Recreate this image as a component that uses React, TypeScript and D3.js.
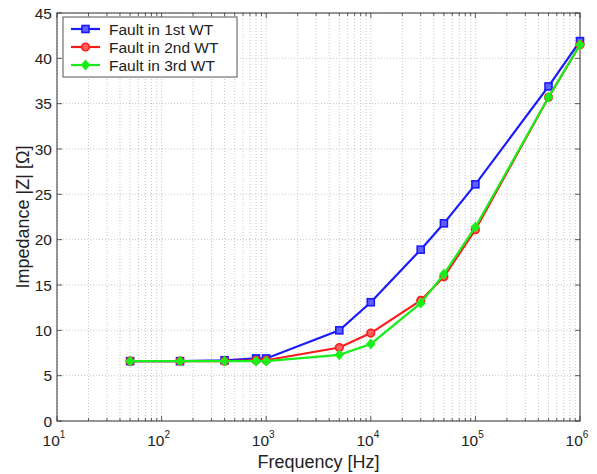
import React from "react";
import * as d3 from "d3";

const freqs = [50, 150, 400, 800, 1000, 5000, 10000, 30000, 50000, 100000, 500000, 1000000];
const wt1 = [6.6, 6.6, 6.7, 6.9, 6.9, 10.0, 13.1, 18.9, 21.8, 26.1, 36.9, 41.9];
const wt2 = [6.6, 6.6, 6.6, 6.7, 6.7, 8.1, 9.7, 13.3, 15.9, 21.1, 35.7, 41.5];
const wt3 = [6.6, 6.6, 6.6, 6.6, 6.6, 7.3, 8.5, 13.0, 16.2, 21.4, 35.7, 41.5];
const seriesNames = ["Fault in 1st WT", "Fault in 2nd WT", "Fault in 3rd WT"];
const yTicks = [0, 5, 10, 15, 20, 25, 30, 35, 40, 45];
const xExponents = [1, 2, 3, 4, 5, 6];

const W = 597, H = 474;
const L = 57, R = 580, T = 13, B = 421;

export default function App() {
  const x = d3.scaleLog().domain([10, 1e6]).range([L, R]);
  const y = d3.scaleLinear().domain([0, 45]).range([B, T]);
  const series = [
    { name: seriesNames[0], vals: wt1, color: "#1a1aff", marker: "square" },
    { name: seriesNames[1], vals: wt2, color: "#ff1a1a", marker: "circle" },
    { name: seriesNames[2], vals: wt3, color: "#1aee1a", marker: "diamond" },
  ];
  const minor: number[] = [];
  for (let e = 1; e < 6; e++) for (let k = 2; k <= 9; k++) minor.push(k * Math.pow(10, e));
  const major = xExponents.map((e) => Math.pow(10, e));
  const line = d3.line<[number, number]>().x((d) => x(d[0])).y((d) => y(d[1]));
  const font = "Liberation Sans, Arial, sans-serif";

  const marker = (m: string, cx: number, cy: number, color: string, key: any) => {
    if (m === "square")
      return <rect key={key} x={cx - 3.5} y={cy - 3.5} width={7} height={7} fill="#6060ff" stroke={color} strokeWidth={1.6} />;
    if (m === "circle")
      return <circle key={key} cx={cx} cy={cy} r={3.8} fill="#ff6060" stroke={color} strokeWidth={1.6} />;
    return <path key={key} d={`M${cx},${cy - 4.5}L${cx + 4},${cy}L${cx},${cy + 4.5}L${cx - 4},${cy}Z`} fill={color} stroke={color} strokeWidth={1.2} />;
  };

  return (
    <svg width={W} height={H} style={{ position: "absolute", left: 0, top: 0, background: "#fff" }} fontFamily={font}>
      <rect x={0} y={0} width={W} height={H} fill="#fff" />
      {/* grid */}
      {[...minor, ...major].map((v, i) => (
        <line key={"gx" + i} x1={x(v)} x2={x(v)} y1={T} y2={B} stroke="#b8b8b8" strokeWidth={0.8} strokeDasharray="1,2" />
      ))}
      {yTicks.map((v, i) => (
        <line key={"gy" + i} x1={L} x2={R} y1={y(v)} y2={y(v)} stroke="#b8b8b8" strokeWidth={0.8} strokeDasharray="1,2" />
      ))}
      {/* ticks */}
      {minor.map((v, i) => (
        <g key={"mt" + i}>
          <line x1={x(v)} x2={x(v)} y1={B} y2={B - 3} stroke="#333" strokeWidth={0.8} />
          <line x1={x(v)} x2={x(v)} y1={T} y2={T + 3} stroke="#333" strokeWidth={0.8} />
        </g>
      ))}
      {major.map((v, i) => (
        <g key={"Mt" + i}>
          <line x1={x(v)} x2={x(v)} y1={B} y2={B - 5} stroke="#333" strokeWidth={0.8} />
          <line x1={x(v)} x2={x(v)} y1={T} y2={T + 5} stroke="#333" strokeWidth={0.8} />
        </g>
      ))}
      {yTicks.map((v, i) => (
        <g key={"yt" + i}>
          <line x1={L} x2={L + 5} y1={y(v)} y2={y(v)} stroke="#333" strokeWidth={0.8} />
          <line x1={R} x2={R - 5} y1={y(v)} y2={y(v)} stroke="#333" strokeWidth={0.8} />
          <text x={L - 5} y={y(v) + 5.5} textAnchor="end" fontSize={15.5} fill="#222">{v}</text>
        </g>
      ))}
      {xExponents.map((e, i) => (
        <text key={"xl" + i} x={x(Math.pow(10, e)) - 3} y={B + 25} textAnchor="middle" fontSize={15.5} fill="#222">
          10<tspan dy={-8} fontSize={10}>{e}</tspan>
        </text>
      ))}
      <rect x={L} y={T} width={R - L} height={B - T} fill="none" stroke="#333" strokeWidth={1} />
      {/* series */}
      {series.map((s, si) => {
        const pts: [number, number][] = freqs.map((f, i) => [f, s.vals[i]]);
        return (
          <g key={"s" + si}>
            <path d={line(pts) || ""} fill="none" stroke={s.color} strokeWidth={2.2} />
            {pts.map((p, i) => marker(s.marker, x(p[0]), y(p[1]), s.color, i))}
          </g>
        );
      })}
      {/* legend */}
      <rect x={63} y={17} width={174} height={60} fill="#fff" stroke="#555" strokeWidth={1} />
      {series.map((s, i) => {
        const ly = 29 + i * 18;
        return (
          <g key={"lg" + i}>
            <line x1={71} x2={100} y1={ly} y2={ly} stroke={s.color} strokeWidth={2.2} />
            {marker(s.marker, 85.5, ly, s.color, "m")}
            <text x={109} y={ly + 5.5} fontSize={15.5} fill="#222">{s.name}</text>
          </g>
        );
      })}
      {/* axis labels */}
      <text x={(L + R) / 2} y={468} textAnchor="middle" fontSize={18} fill="#222">Frequency [Hz]</text>
      <text transform={`translate(29,${(T + B) / 2}) rotate(-90)`} textAnchor="middle" fontSize={18} fill="#222">Impedance |Z| [Ω]</text>
    </svg>
  );
}
